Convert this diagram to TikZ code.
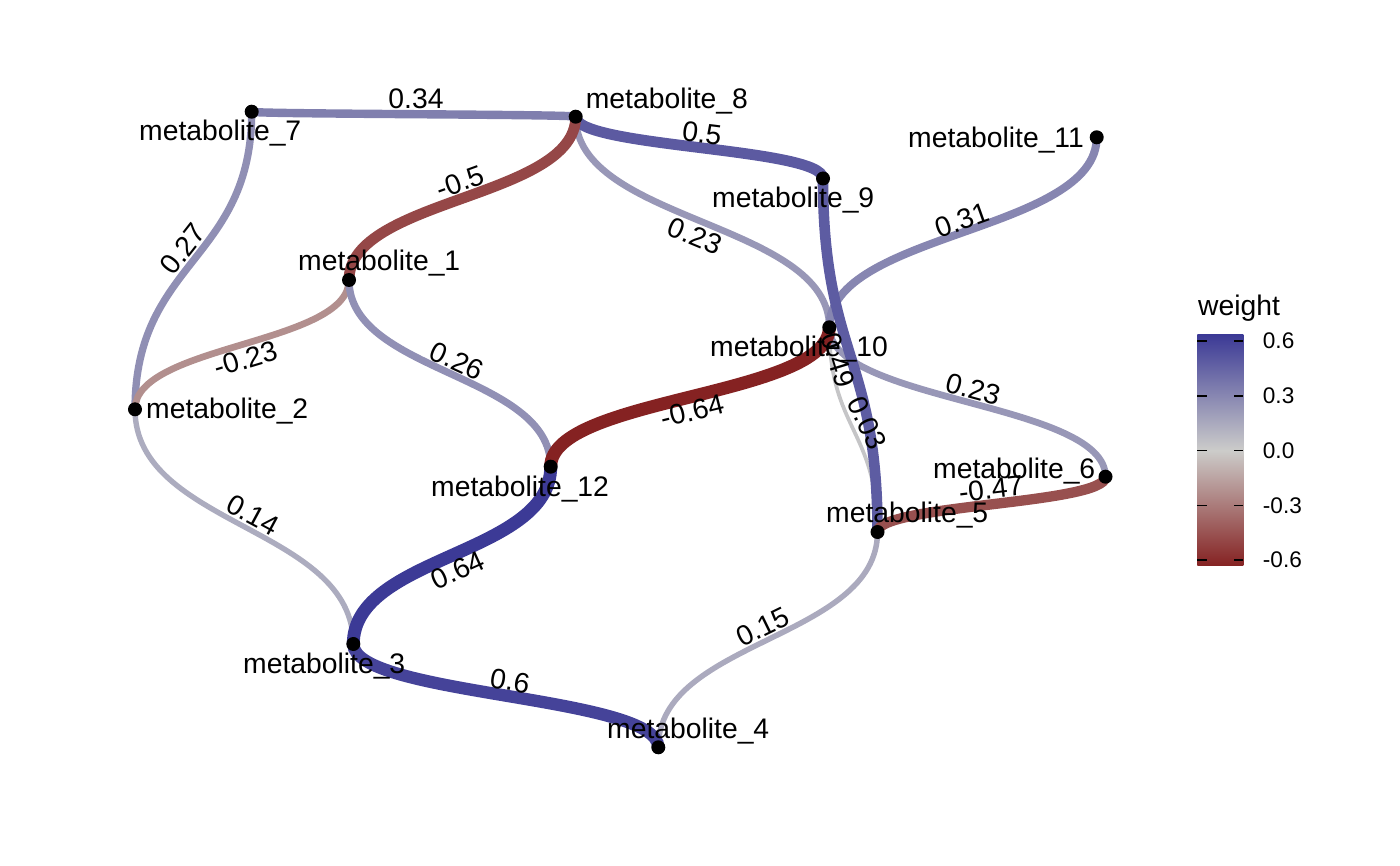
\documentclass[tikz,border=0pt]{standalone}
\usepackage{fontspec}
\setmainfont{Liberation Sans}
\usetikzlibrary{calc}

% weight colour scale: low (negative) - mid (zero) - high (positive)
\definecolor{wHi}{RGB}{60,58,150}
\definecolor{wMid}{RGB}{204,204,202}
\definecolor{wLo}{RGB}{133,34,34}

\tikzset{
  lab/.style={font=\fontsize{28.3}{34}\selectfont, inner sep=0pt, text=black},
  ticklab/.style={font=\fontsize{22.6}{27}\selectfont, inner sep=0pt, anchor=west},
  vlab/.style={lab, anchor=base west},
  elab/.style={lab, anchor=center},
  dot/.style={circle, fill=black, inner sep=0pt, minimum size=14pt},
  tickmark/.style={line width=1.5pt, black},
}

% diagonal edge: cubic curve with vertical tangents at both ends
\newcommand{\netedge}[4]{%
  \path ($(#1)!0.5!(#2)$) coordinate (edgemid);
  \draw[line width=#4, draw=#3] (#1) .. controls (#1 |- edgemid) and (#2 |- edgemid) .. (#2);
}

\begin{document}
\begin{tikzpicture}[x=1pt, y=-1pt]
\useasboundingbox (0,0) rectangle (1400,866);

% vertex positions
\coordinate (m1)  at (349,280);
\coordinate (m2)  at (135,409.3);
\coordinate (m3)  at (353.3,644);
\coordinate (m4)  at (658.3,747.3);
\coordinate (m5)  at (877.5,532);
\coordinate (m6)  at (1105.5,476.7);
\coordinate (m7)  at (251.7,111.7);
\coordinate (m8)  at (575.7,116.7);
\coordinate (m9)  at (823,178.5);
\coordinate (m10) at (829.3,327.3);
\coordinate (m11) at (1096.7,137.3);
\coordinate (m12) at (550.7,466.7);

% edges: colour and width follow the weight
\netedge{m2}{m3}{wHi!22!wMid}{5.4pt}
\netedge{m5}{m4}{wHi!23!wMid}{5.5pt}
\netedge{m10}{m5}{wHi!5!wMid}{3.75pt}
\netedge{m7}{m2}{wHi!42!wMid}{7.3pt}
\netedge{m1}{m2}{wLo!36!wMid}{6.7pt}
\netedge{m1}{m12}{wHi!41!wMid}{7.2pt}
\netedge{m8}{m10}{wHi!36!wMid}{6.7pt}
\netedge{m10}{m6}{wHi!36!wMid}{6.7pt}
\netedge{m11}{m10}{wHi!48!wMid}{8pt}
\netedge{m7}{m8}{wHi!53!wMid}{8.4pt}
\netedge{m8}{m9}{wHi!78!wMid}{10.8pt}
\netedge{m8}{m1}{wLo!78!wMid}{10.8pt}
\netedge{m9}{m5}{wHi!77!wMid}{10.6pt}
\netedge{m6}{m5}{wLo!73!wMid}{10.3pt}
\netedge{m10}{m12}{wLo!100!wMid}{12.9pt}
\netedge{m12}{m3}{wHi!100!wMid}{12.9pt}
\netedge{m3}{m4}{wHi!94!wMid}{12.3pt}

% vertex dots
\foreach \v in {1,...,12} {\node[dot] (d\v) at (m\v) {};}

% edge labels
\node[elab] (e78)   at (416,99)   {0.34};
\node[elab, rotate=-7] (e89) at (702,133) {0.5};
\node[elab, rotate=20] (e81) at (460,182) {-0.5};
\node[elab, rotate=-22.5] (e810) at (695,236) {0.23};
\node[elab, rotate=52] (e72) at (183,249) {0.27};
\node[elab, rotate=19.6] (e1110) at (962,220) {0.31};
\node[elab, rotate=16.8] (e12) at (246,359) {-0.23};
\node[elab, rotate=-24.8] (e112) at (457,361) {0.26};
\node[elab, rotate=-73] (e95) at (838,360) {0.49};
\node[elab, rotate=14] (e1012) at (692,411) {-0.64};
\node[elab, rotate=-15.3] (e106) at (973,389) {0.23};
\node[elab, rotate=-65] (e105) at (867,423) {0.03};
\node[elab, rotate=6.8] (e65) at (991,489) {-0.47};
\node[elab, rotate=-28.3] (e23) at (253,515) {0.14};
\node[elab, rotate=24.3] (e123) at (458,570) {0.64};
\node[elab, rotate=-9.5] (e34) at (510,681) {0.6};
\node[elab, rotate=26] (e54) at (763,627) {0.15};

% vertex labels
\node[vlab] (l7)  at (139,141)   {metabolite\_7};
\node[vlab] (l8)  at (585.7,109) {metabolite\_8};
\node[vlab] (l11) at (908,148)   {metabolite\_11};
\node[vlab] (l9)  at (712,208)   {metabolite\_9};
\node[vlab] (l1)  at (298,271)   {metabolite\_1};
\node[vlab] (l10) at (710,357)   {metabolite\_10};
\node[vlab] (l2)  at (146,418)   {metabolite\_2};
\node[vlab] (l12) at (431,496)   {metabolite\_12};
\node[vlab] (l6)  at (933,478)   {metabolite\_6};
\node[vlab] (l5)  at (826,522)   {metabolite\_5};
\node[vlab] (l3)  at (243,673)   {metabolite\_3};
\node[vlab] (l4)  at (607,738)   {metabolite\_4};

% legend
\node[vlab] (legtitle) at (1198,316) {weight};
\shade[top color=wHi, bottom color=wLo, middle color=wMid] (1197.3,335) rectangle (1243.3,565.7);
\foreach \yy/\txt in {341/0.6, 396/0.3, 450.7/0.0, 505.7/-0.3, 560/-0.6} {
  \draw[tickmark] (1197.3,\yy) -- (1206.5,\yy);
  \draw[tickmark] (1234,\yy) -- (1243.3,\yy);
  \node[ticklab] at (1262.7,\yy) {\txt};
}
\end{tikzpicture}
\end{document}
